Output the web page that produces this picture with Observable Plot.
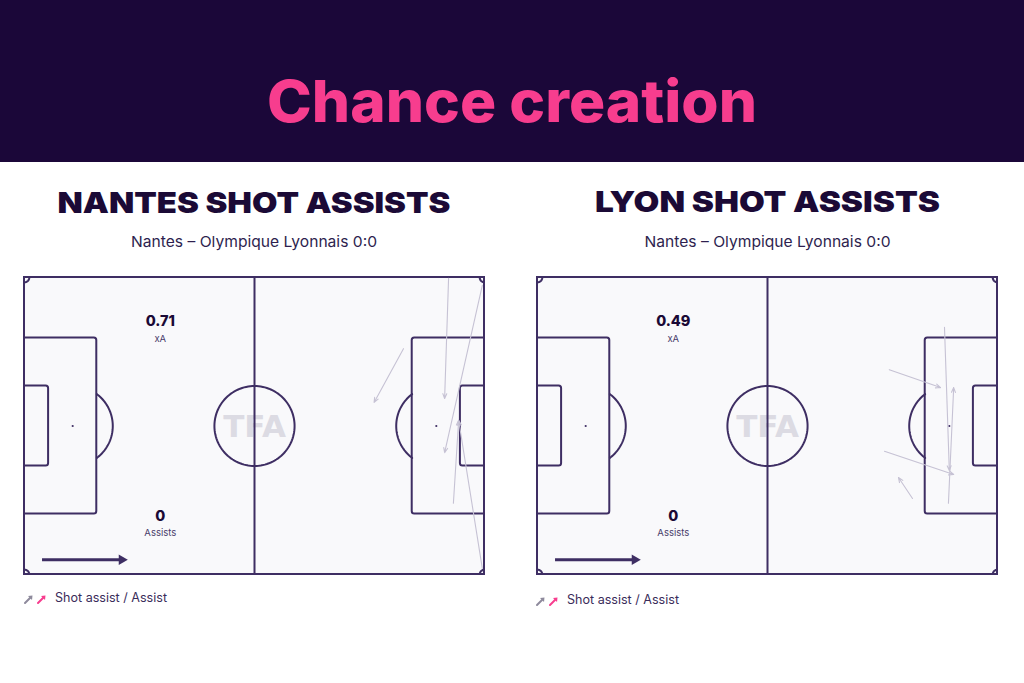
<!DOCTYPE html>
<html>
<head>
<meta charset="utf-8">
<script src="https://cdn.jsdelivr.net/npm/d3@7"></script>
<script src="https://cdn.jsdelivr.net/npm/@observablehq/plot@0.6"></script>
<style>
  html, body { margin: 0; padding: 0; background: #ffffff; }
  #page { position: relative; width: 1024px; height: 683px; overflow: hidden; background: #ffffff; }
  #page > svg.overlay { position: absolute; left: 0; top: 0; }
  .pitch { position: absolute; top: 272px; }
</style>
</head>
<body>
<div id="page">
  <svg class="overlay" width="1024" height="683" xmlns="http://www.w3.org/2000/svg">
    <rect x="0" y="0" width="1024" height="162" fill="#1b0739"></rect>
    <text x="512" y="122" text-anchor="middle" font-family="Inter" font-weight="800" font-size="58" fill="#f73d8e" textLength="490" lengthAdjust="spacingAndGlyphs">Chance creation</text>
    <text x="254" y="213" text-anchor="middle" font-family="Inter" font-weight="900" font-size="29" fill="#1b0a36" textLength="393" lengthAdjust="spacingAndGlyphs">NANTES SHOT ASSISTS</text>
    <text x="767.5" y="212" text-anchor="middle" font-family="Inter" font-weight="900" font-size="29" fill="#1b0a36" textLength="345" lengthAdjust="spacingAndGlyphs">LYON SHOT ASSISTS</text>
    <text x="254" y="247" text-anchor="middle" font-family="Inter" font-size="15" fill="#2e1f4f" textLength="246" lengthAdjust="spacingAndGlyphs">Nantes – Olympique Lyonnais 0:0</text>
    <text x="767.5" y="247" text-anchor="middle" font-family="Inter" font-size="15" fill="#2e1f4f" textLength="246" lengthAdjust="spacingAndGlyphs">Nantes – Olympique Lyonnais 0:0</text>
    <g stroke-width="2" stroke-linecap="round">
      <line x1="25" y1="603" x2="31" y2="597" stroke="#8e8a9c"></line>
      <path d="M28 596 L32.5 595.5 L32 600 Z" fill="#8e8a9c" stroke="none"></path>
      <line x1="38" y1="603" x2="44" y2="597" stroke="#f73d8e"></line>
      <path d="M41 596 L45.5 595.5 L45 600 Z" fill="#f73d8e" stroke="none"></path>
      <line x1="537" y1="605" x2="543" y2="599" stroke="#8e8a9c"></line>
      <path d="M540 598 L544.5 597.5 L544 602 Z" fill="#8e8a9c" stroke="none"></path>
      <line x1="550" y1="605" x2="556" y2="599" stroke="#f73d8e"></line>
      <path d="M553 598 L557.5 597.5 L557 602 Z" fill="#f73d8e" stroke="none"></path>
    </g>
    <text x="55" y="602" font-family="Inter" font-size="12.5" fill="#3a2c5a" textLength="112" lengthAdjust="spacingAndGlyphs">Shot assist / Assist</text>
    <text x="567" y="604" font-family="Inter" font-size="12.5" fill="#3a2c5a" textLength="112" lengthAdjust="spacingAndGlyphs">Shot assist / Assist</text>
  </svg>
  <div id="left" class="pitch" style="left:19px"></div>
  <div id="right" class="pitch" style="left:532px"></div>
</div>
<script>
// ---- data (pitch coordinates in metres, 105 x 68, y measured from top) ----
const nantesX1 = [96.8, 104.5, 86.5, 97.9, 104.5];
const nantesY1 = [0.2, 1.8, 16.3, 51.7, 66.6];
const nantesX2 = [95.9, 95.9, 79.8, 99.1, 99.1];
const nantesY2 = [27.7, 40.1, 28.6, 32.7, 32.7];

const lyonX1 = [80.3, 92.9, 79.2, 85.6, 93.8];
const lyonY1 = [21.1, 11.4, 39.8, 50.6, 51.7];
const lyonX2 = [92.0, 94.0, 95.0, 82.4, 95.0];
const lyonY2 = [25.2, 44.2, 45.1, 45.8, 25.2];

const teams = ["Nantes", "Lyon"];
const xAValues = [0.71, 0.49];
const assistValues = [0, 0];
const statLabels = ["xA", "Assists"];

// ---- pitch geometry (metres) ----
const L = 105, W = 68;
const lineColor = "#3e2e63";
const arrowColor = "#c6c2d4";

function arcPoints(id, cx, cy, r, a0, a1, step = 2) {
  const pts = [];
  for (let a = a0; a <= a1 + 1e-9; a += step) {
    const t = a * Math.PI / 180;
    pts.push({id, x: cx + r * Math.cos(t), y: cy + r * Math.sin(t)});
  }
  return pts;
}
const pa = Math.acos((16.5 - 11) / 9.15) * 180 / Math.PI;
const curves = [
  ...arcPoints("centre", L / 2, W / 2, 9.15, 0, 360, 3),
  ...arcPoints("penL", 11, W / 2, 9.15, -pa, pa, 2),
  ...arcPoints("penR", L - 11, W / 2, 9.15, 180 - pa, 180 + pa, 2),
  ...arcPoints("c1", 0, 0, 1.1, 0, 90, 10),
  ...arcPoints("c2", L, 0, 1.1, 90, 180, 10),
  ...arcPoints("c3", 0, W, 1.1, 270, 360, 10),
  ...arcPoints("c4", L, W, 1.1, 180, 270, 10)
];
const boxes = [
  {x1: -3, x2: 16.5, y1: W / 2 - 20.16, y2: W / 2 + 20.16},
  {x1: L - 16.5, x2: L + 3, y1: W / 2 - 20.16, y2: W / 2 + 20.16},
  {x1: -3, x2: 5.5, y1: W / 2 - 9.16, y2: W / 2 + 9.16},
  {x1: L - 5.5, x2: L + 3, y1: W / 2 - 9.16, y2: W / 2 + 9.16}
];

function pitchPlot(i, X1, Y1, X2, Y2) {
  const arrows = X1.map((d, k) => ({x1: X1[k], y1: Y1[k], x2: X2[k], y2: Y2[k]}));
  const values = [
    {x: 31, y: 10.1, text: String(xAValues[i])},
    {x: 31, y: 54.7, text: String(assistValues[i])}
  ];
  const labels = [
    {x: 31, y: 14.1, text: statLabels[0]},
    {x: 31, y: 58.5, text: statLabels[1]}
  ];
  return Plot.plot({
    width: 470, height: 307,
    marginTop: 5, marginBottom: 5, marginLeft: 5, marginRight: 5,
    x: {domain: [0, L], axis: null},
    y: {domain: [0, W], reverse: true, axis: null},
    style: {background: "transparent", overflow: "visible"},
    marks: [
      Plot.rect([{}], {x1: 0, x2: L, y1: 0, y2: W, fill: "#f9f9fb"}),
      Plot.text(["TFA"], {x: L / 2, y: W / 2, text: d => d, fontSize: 31, fontWeight: "bold", fontFamily: "DejaVu Sans", fill: "#dcdbe3", dy: 1}),
      Plot.rect(boxes, {x1: "x1", x2: "x2", y1: "y1", y2: "y2", fill: "none", stroke: lineColor, strokeWidth: 2, rx: 2.5, clip: true}),
      Plot.ruleX([L / 2], {y1: 0, y2: W, stroke: lineColor, strokeWidth: 2}),
      Plot.line(curves, {x: "x", y: "y", z: "id", stroke: lineColor, strokeWidth: 2, clip: true}),
      Plot.rect([{}], {x1: 0, x2: L, y1: 0, y2: W, fill: "none", stroke: lineColor, strokeWidth: 2}),
      Plot.dot([[11, W / 2], [L - 11, W / 2]], {x: d => d[0], y: d => d[1], r: 1.1, fill: lineColor, stroke: "none"}),
      Plot.arrow(arrows, {x1: "x1", y1: "y1", x2: "x2", y2: "y2", stroke: arrowColor, strokeWidth: 1.1, headLength: 7, headAngle: 45}),
      Plot.text(values, {x: "x", y: "y", text: "text", fontSize: 14.5, fontWeight: 800, fill: "#1b0a36", fontFamily: "Inter"}),
      Plot.text(labels, {x: "x", y: "y", text: "text", fontSize: 9.5, fill: "#4a3d6b", fontFamily: "Inter"}),
      Plot.link([{}], {x1: 4.0, x2: 21.8, y1: 64.6, y2: 64.6, stroke: lineColor, strokeWidth: 3}),
      Plot.dot([{}], {x: 22.2, y: 64.6, symbol: "triangle2", rotate: 90, r: 5, fill: lineColor, stroke: "none"})
    ]
  });
}

document.getElementById("left").appendChild(pitchPlot(0, nantesX1, nantesY1, nantesX2, nantesY2));
document.getElementById("right").appendChild(pitchPlot(1, lyonX1, lyonY1, lyonX2, lyonY2));
</script>
</body>
</html>
